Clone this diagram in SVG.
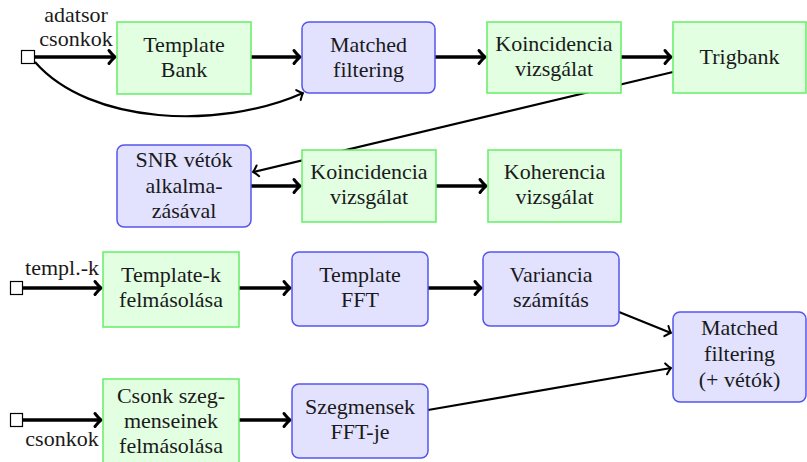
<svg xmlns="http://www.w3.org/2000/svg" width="807" height="462" viewBox="0 0 807 462">
<style>
  .g { fill: #e2ffe2; stroke: #66ee66; stroke-width: 1.5; }
  .b { fill: #e2e2ff; stroke: #5555ee; stroke-width: 1.5; }
  text { font-size: 22px; fill: #1a1a1a; text-anchor: middle; }
  .thick { stroke: #000; stroke-width: 3.6; fill: none; marker-end: url(#ah); }
  .thin { stroke: #000; stroke-width: 2.2; fill: none; marker-end: url(#ahs); }
  .sq { fill: #fff; stroke: #000; stroke-width: 1.2; }
</style>
<defs>
  <marker id="ah" markerUnits="userSpaceOnUse" markerWidth="20" markerHeight="20" refX="0" refY="0" orient="auto" overflow="visible">
    <path d="M-6,-6.5 Q-2,-1.5 0,0 Q-2,1.5 -6,6.5" fill="none" stroke="#000" stroke-width="3" stroke-linecap="round" stroke-linejoin="round"/>
  </marker>
  <marker id="ahs" markerUnits="userSpaceOnUse" markerWidth="20" markerHeight="20" refX="0" refY="0" orient="auto" overflow="visible">
    <path d="M-5,-5.5 Q-1.7,-1.2 0,0 Q-1.7,1.2 -5,5.5" fill="none" stroke="#000" stroke-width="2" stroke-linecap="round" stroke-linejoin="round"/>
  </marker>
</defs>

<g id="connectors">
  <path class="thick" d="M35,57 L115,57"/>
  <path class="thin" d="M35,62 C90,125 220,130 303,93"/>
  <path class="thick" d="M251,57 L300,57"/>
  <path class="thick" d="M435,57 L485,57"/>
  <path class="thick" d="M621,57 L671,57"/>
  <path class="thin" d="M673,72 L253,172"/>
  <path class="thick" d="M251,186 L300,186"/>
  <path class="thick" d="M436,186 L486,186"/>
  <path class="thick" d="M23,288 L101,288"/>
  <path class="thick" d="M239,288 L290,288"/>
  <path class="thick" d="M428,288 L481,288"/>
  <path class="thin" d="M619,312 L671,333"/>
  <path class="thick" d="M23,420 L101,420"/>
  <path class="thick" d="M239,420 L290,420"/>
  <path class="thin" d="M428,410 L671,368"/>
</g>

<g id="in1">
  <rect class="sq" x="21.5" y="50.5" width="13" height="13"/>
  <text font-family="Liberation Serif" x="76" y="22">adatsor</text>
  <text font-family="Liberation Serif" x="76" y="46">csonkok</text>
</g>
<g id="templatebank">
  <rect class="g" x="117" y="22" width="134" height="72"/>
  <text font-family="Liberation Serif" x="184" y="52">Template</text>
  <text font-family="Liberation Serif" x="184" y="77">Bank</text>
</g>
<g id="matched1">
  <rect class="b" x="302" y="22" width="133" height="71" rx="7"/>
  <text font-family="Liberation Serif" x="368.5" y="52">Matched</text>
  <text font-family="Liberation Serif" x="368.5" y="77">filtering</text>
</g>
<g id="koinc1">
  <rect class="g" x="487" y="22" width="134" height="71"/>
  <text font-family="Liberation Serif" x="554" y="51">Koincidencia</text>
  <text font-family="Liberation Serif" x="554" y="76">vizsgálat</text>
</g>
<g id="trigbank">
  <rect class="g" x="673" y="22" width="133" height="71"/>
  <text font-family="Liberation Serif" x="739.5" y="64">Trigbank</text>
</g>
<g id="snr">
  <rect class="b" x="117" y="145" width="134" height="82" rx="7"/>
  <text font-family="Liberation Serif" x="184" y="167">SNR vétók</text>
  <text font-family="Liberation Serif" x="184" y="193">alkalma-</text>
  <text font-family="Liberation Serif" x="184" y="218">zásával</text>
</g>
<g id="koinc2">
  <rect class="g" x="302" y="150" width="134" height="72"/>
  <text font-family="Liberation Serif" x="369" y="179">Koincidencia</text>
  <text font-family="Liberation Serif" x="369" y="204">vizsgálat</text>
</g>
<g id="koherencia">
  <rect class="g" x="488" y="150" width="133" height="72"/>
  <text font-family="Liberation Serif" x="554.5" y="179">Koherencia</text>
  <text font-family="Liberation Serif" x="554.5" y="204">vizsgálat</text>
</g>
<g id="in2">
  <rect class="sq" x="10.5" y="281.5" width="12" height="13"/>
  <text font-family="Liberation Serif" x="62" y="275">templ.-k</text>
</g>
<g id="templatek">
  <rect class="g" x="103" y="252" width="136" height="75"/>
  <text font-family="Liberation Serif" x="171" y="282">Template-k</text>
  <text font-family="Liberation Serif" x="171" y="307">felmásolása</text>
</g>
<g id="templatefft">
  <rect class="b" x="292" y="252" width="136" height="74" rx="7"/>
  <text font-family="Liberation Serif" x="360" y="282">Template</text>
  <text font-family="Liberation Serif" x="360" y="307">FFT</text>
</g>
<g id="variancia">
  <rect class="b" x="483" y="252" width="136" height="74" rx="7"/>
  <text font-family="Liberation Serif" x="551" y="282">Variancia</text>
  <text font-family="Liberation Serif" x="551" y="307">számítás</text>
</g>
<g id="matched2">
  <rect class="b" x="673" y="312" width="133" height="90" rx="7"/>
  <text font-family="Liberation Serif" x="739.5" y="335">Matched</text>
  <text font-family="Liberation Serif" x="739.5" y="361">filtering</text>
  <text font-family="Liberation Serif" x="739.5" y="387">(+ vétók)</text>
</g>
<g id="in3">
  <rect class="sq" x="10.5" y="413.5" width="12" height="13"/>
  <text font-family="Liberation Serif" x="62" y="446">csonkok</text>
</g>
<g id="csonk">
  <rect class="g" x="103" y="379" width="136" height="90"/>
  <text font-family="Liberation Serif" x="171" y="403">Csonk szeg-</text>
  <text font-family="Liberation Serif" x="171" y="428">menseinek</text>
  <text font-family="Liberation Serif" x="171" y="453">felmásolása</text>
</g>
<g id="szegmensek">
  <rect class="b" x="292" y="384" width="136" height="74" rx="7"/>
  <text font-family="Liberation Serif" x="360" y="414">Szegmensek</text>
  <text font-family="Liberation Serif" x="360" y="439">FFT-je</text>
</g>
</svg>
